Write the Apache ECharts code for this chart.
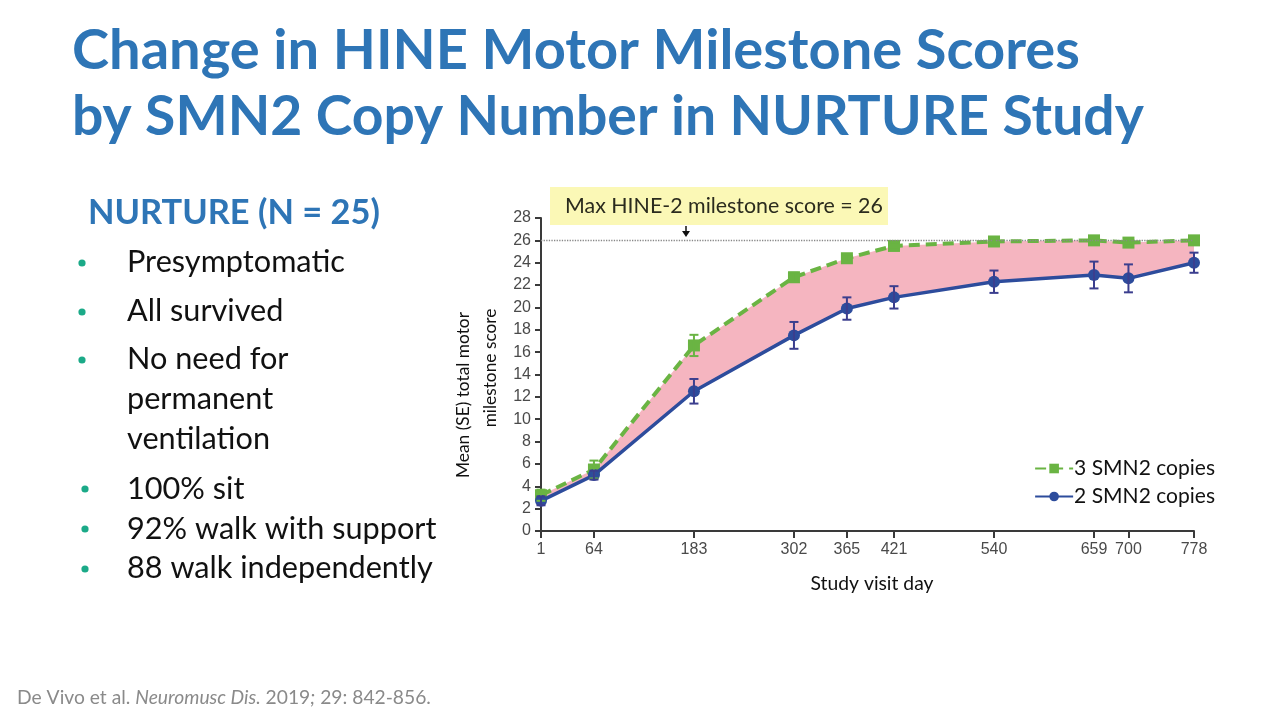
<!DOCTYPE html>
<html>
<head>
<meta charset="utf-8">
<script src="https://cdn.jsdelivr.net/npm/echarts@6/dist/echarts.min.js"></script>
<style>
html,body{margin:0;padding:0;background:#fff;}
#c{width:1280px;height:720px;}
</style>
</head>
<body>
<div id="c"></div>
<script>
// ---- data ----
const days = [1, 64, 183, 302, 365, 421, 540, 659, 700, 778];
const copies3 = [3.2, 5.5, 16.6, 22.7, 24.4, 25.5, 25.9, 26.0, 25.8, 26.0];
const copies3Err = [0.5, 0.8, 0.95, 0.4, 0.3, 0.3, 0.3, 0.3, 0.3, 0.3];
const copies2 = [2.7, 5.0, 12.5, 17.5, 19.9, 20.9, 22.3, 22.9, 22.6, 24.0];
const copies2Err = [0.4, 0.4, 1.1, 1.2, 1.0, 1.0, 1.0, 1.2, 1.25, 0.9];
const yTicks = [0, 2, 4, 6, 8, 10, 12, 14, 16, 18, 20, 22, 24, 26, 28];
const maxScore = 26;
const seriesNames = ['3 SMN2 copies', '2 SMN2 copies'];

const titleLines = ['Change in HINE Motor Milestone Scores', 'by SMN2 Copy Number in NURTURE Study'];
const subTitle = 'NURTURE (N = 25)';
const bulletsA = ['Presymptomatic', 'All survived', 'No need for'];
const bulletsCont = ['permanent', 'ventilation'];
const bulletsB = ['100% sit', '92% walk with support', '88 walk independently'];

// ---- helpers ----
const FONT = 'Lato';
const cv = document.createElement('canvas').getContext('2d');
function fit(text, weight, family, target, style) {
  cv.font = (style || 'normal') + ' ' + weight + ' 100px ' + family;
  return 100 * target / cv.measureText(text).width;
}

const titleSize1 = fit(titleLines[0], 'bold', FONT, 1008);
const titleSize2 = fit(titleLines[1], 'bold', FONT, 1072);
const subSize = fit(subTitle, 'bold', FONT, 292);
const bulletSize = fit(bulletsA[0], 'normal', FONT, 218);
const legendSize = fit(seriesNames[0], 'normal', FONT, 141);
const annSize = fit('Max HINE-2 milestone score = 26', 'normal', FONT, 318);
const yNameSize = fit('Mean (SE) total motor', 'normal', FONT, 166);
const xNameSize = fit('Study visit day', 'normal', FONT, 123);
// footnote
cv.font = 'normal 100px ' + FONT;
let fw = cv.measureText('De Vivo et al.  2019 29: 842-856.').width;
cv.font = 'italic 100px ' + FONT;
fw += cv.measureText('Neuromusc Dis.;').width;
const footSize = 100 * 414 / fw;

const green = '#6AB443', blue = '#2D4C9C', pink = '#F5B5C0';

function capMid(baseline, size) { return baseline - 0.36 * size; }

const graphics = [];
function txt(text, x, y, size, opts) {
  graphics.push(Object.assign({
    type: 'text', silent: true,
    style: Object.assign({
      text: text, x: x, y: y,
      font: (opts && opts.weight || 'normal') + ' ' + size.toFixed(2) + 'px ' + FONT,
      fill: '#111', textAlign: 'left', textVerticalAlign: 'middle'
    }, opts && opts.style)
  }, opts && opts.el));
}
// title
txt(titleLines[0], 72, capMid(71, titleSize1), titleSize1, {weight: 'bold', style: {fill: '#2E75B6'}});
txt(titleLines[1], 72, capMid(137, titleSize2), titleSize2, {weight: 'bold', style: {fill: '#2E75B6'}});
txt(subTitle, 88, capMid(225, subSize), subSize, {weight: 'bold', style: {fill: '#2E75B6'}});
// bullets
const baseA = [273, 322, 370];
const dotA = [263, 312, 360];
bulletsA.forEach((t, i) => {
  txt(t, 127, capMid(baseA[i], bulletSize), bulletSize);
  graphics.push({type: 'circle', silent: true, shape: {cx: 82, cy: dotA[i], r: 3.6}, style: {fill: '#1BAA88'}});
});
[410, 450].forEach((b, i) => txt(bulletsCont[i], 127, capMid(b, bulletSize), bulletSize));
const baseB = [500, 540, 579];
const dotB = [489, 529, 569];
bulletsB.forEach((t, i) => {
  txt(t, 127, capMid(baseB[i], bulletSize), bulletSize);
  graphics.push({type: 'circle', silent: true, shape: {cx: 85, cy: dotB[i], r: 3.6}, style: {fill: '#1BAA88'}});
});
// footnote
graphics.push({
  type: 'text', silent: true,
  style: {
    text: '{n|De Vivo et al. }{i|Neuromusc Dis.}{n| 2019}{i|;}{n| 29: 842-856.}',
    x: 17, y: 698, textVerticalAlign: 'middle',
    rich: {
      n: {fontFamily: FONT, fontSize: footSize, fill: '#8A8A8A', color: '#8A8A8A'},
      i: {fontFamily: FONT, fontSize: footSize, fontStyle: 'italic', fill: '#8A8A8A', color: '#8A8A8A'}
    }
  }
});
// annotation box
graphics.push({type: 'rect', silent: true, shape: {x: 550, y: 187, width: 338, height: 38}, style: {fill: '#FBF8B6'}});
txt('Max HINE-2 milestone score = 26', 565, 206, annSize, {style: {fill: '#2B2B1E'}});
// arrow
graphics.push({type: 'line', silent: true, shape: {x1: 686, y1: 226, x2: 686, y2: 232}, style: {stroke: '#111', lineWidth: 1.5}});
graphics.push({type: 'polygon', silent: true, shape: {points: [[682, 231], [690, 231], [686, 237]]}, style: {fill: '#111'}});
// axis names
txt('Mean (SE) total motor', 0, 0, yNameSize, {style: {textAlign: 'center'}, el: {rotation: Math.PI / 2, x: 463, y: 395}});
txt('milestone score', 0, 0, yNameSize, {style: {textAlign: 'center'}, el: {rotation: Math.PI / 2, x: 490, y: 368}});
txt('Study visit day', 872, 584, xNameSize, {style: {textAlign: 'center'}});

const pts3 = days.map((d, i) => [d, copies3[i]]);
const pts2 = days.map((d, i) => [d, copies2[i]]);
const err3 = days.map((d, i) => [d, copies3[i] - copies3Err[i], copies3[i] + copies3Err[i]]);
const err2 = days.map((d, i) => [d, copies2[i] - copies2Err[i], copies2[i] + copies2Err[i]]);

function errRender(color) {
  return function (params, api) {
    const x = api.value(0);
    const lo = api.coord([x, api.value(1)]);
    const hi = api.coord([x, api.value(2)]);
    const w = 4.5;
    const st = {stroke: color, lineWidth: 2};
    return {
      type: 'group',
      children: [
        {type: 'line', shape: {x1: lo[0], y1: lo[1], x2: hi[0], y2: hi[1]}, style: st},
        {type: 'line', shape: {x1: lo[0] - w, y1: lo[1], x2: lo[0] + w, y2: lo[1]}, style: st},
        {type: 'line', shape: {x1: hi[0] - w, y1: hi[1], x2: hi[0] + w, y2: hi[1]}, style: st}
      ]
    };
  };
}

function bandRender(params, api) {
  const upper = days.map((d, i) => api.coord([d, copies3[i]]));
  const lower = days.map((d, i) => api.coord([d, copies2[i]])).reverse();
  return {type: 'polygon', shape: {points: upper.concat(lower)}, style: {fill: pink}};
}

const axisColor = '#3A3A3A';
const tickLabel = {color: '#4A4A4A', fontFamily: 'Liberation Sans', fontSize: 16};

const chart = echarts.init(document.getElementById('c'), null, {renderer: 'canvas'});
chart.setOption({
  animation: false,
  backgroundColor: '#fff',
  grid: {left: 541, right: 86, top: 218, bottom: 189, containLabel: false},
  xAxis: {
    type: 'value', min: days[0], max: days[days.length - 1],
    splitLine: {show: false},
    axisLine: {lineStyle: {color: axisColor, width: 2}},
    axisTick: {show: true, length: 7, lineStyle: {color: axisColor, width: 2}, customValues: days},
    axisLabel: Object.assign({margin: 11, customValues: days}, tickLabel)
  },
  yAxis: {
    type: 'value', min: 0, max: 28, interval: 2,
    splitLine: {show: false},
    axisLine: {show: true, lineStyle: {color: axisColor, width: 2}},
    axisTick: {show: true, length: 6, lineStyle: {color: axisColor, width: 2}},
    axisLabel: Object.assign({margin: 10, customValues: yTicks}, tickLabel)
  },
  legend: {
    data: seriesNames,
    orient: 'vertical', right: 60, top: 453,
    itemWidth: 38, itemHeight: 12, itemGap: 7,
    textStyle: {fontFamily: FONT, fontSize: legendSize, color: '#111', padding: [0, 0, 0, -4]},
    selectedMode: false
  },
  series: [
    {
      name: 'band', type: 'custom', data: [0], renderItem: bandRender, silent: true, z: 1,
      encode: {x: -1, y: -1}
    },
    {
      name: seriesNames[1], type: 'line', data: pts2,
      symbol: 'circle', symbolSize: 12,
      itemStyle: {color: blue},
      lineStyle: {color: blue, width: 3.5}, z: 4,
      markLine: {
        silent: true, symbol: 'none', label: {show: false},
        lineStyle: {color: '#888', type: 'dotted', width: 1.3},
        data: [{yAxis: maxScore}]
      }
    },
    {
      name: seriesNames[0], type: 'line', data: pts3,
      symbol: 'rect', symbolSize: 12,
      itemStyle: {color: green},
      lineStyle: {color: green, width: 4, type: [11, 6]}, z: 3
    },
    {
      name: 'err3', type: 'custom', data: err3, renderItem: errRender(green),
      encode: {x: 0, y: [1, 2]}, z: 5, silent: true
    },
    {
      name: 'err2', type: 'custom', data: err2, renderItem: errRender('#3B3E8E'),
      encode: {x: 0, y: [1, 2]}, z: 6, silent: true
    }
  ],
  graphic: graphics
});
</script>
</body>
</html>
